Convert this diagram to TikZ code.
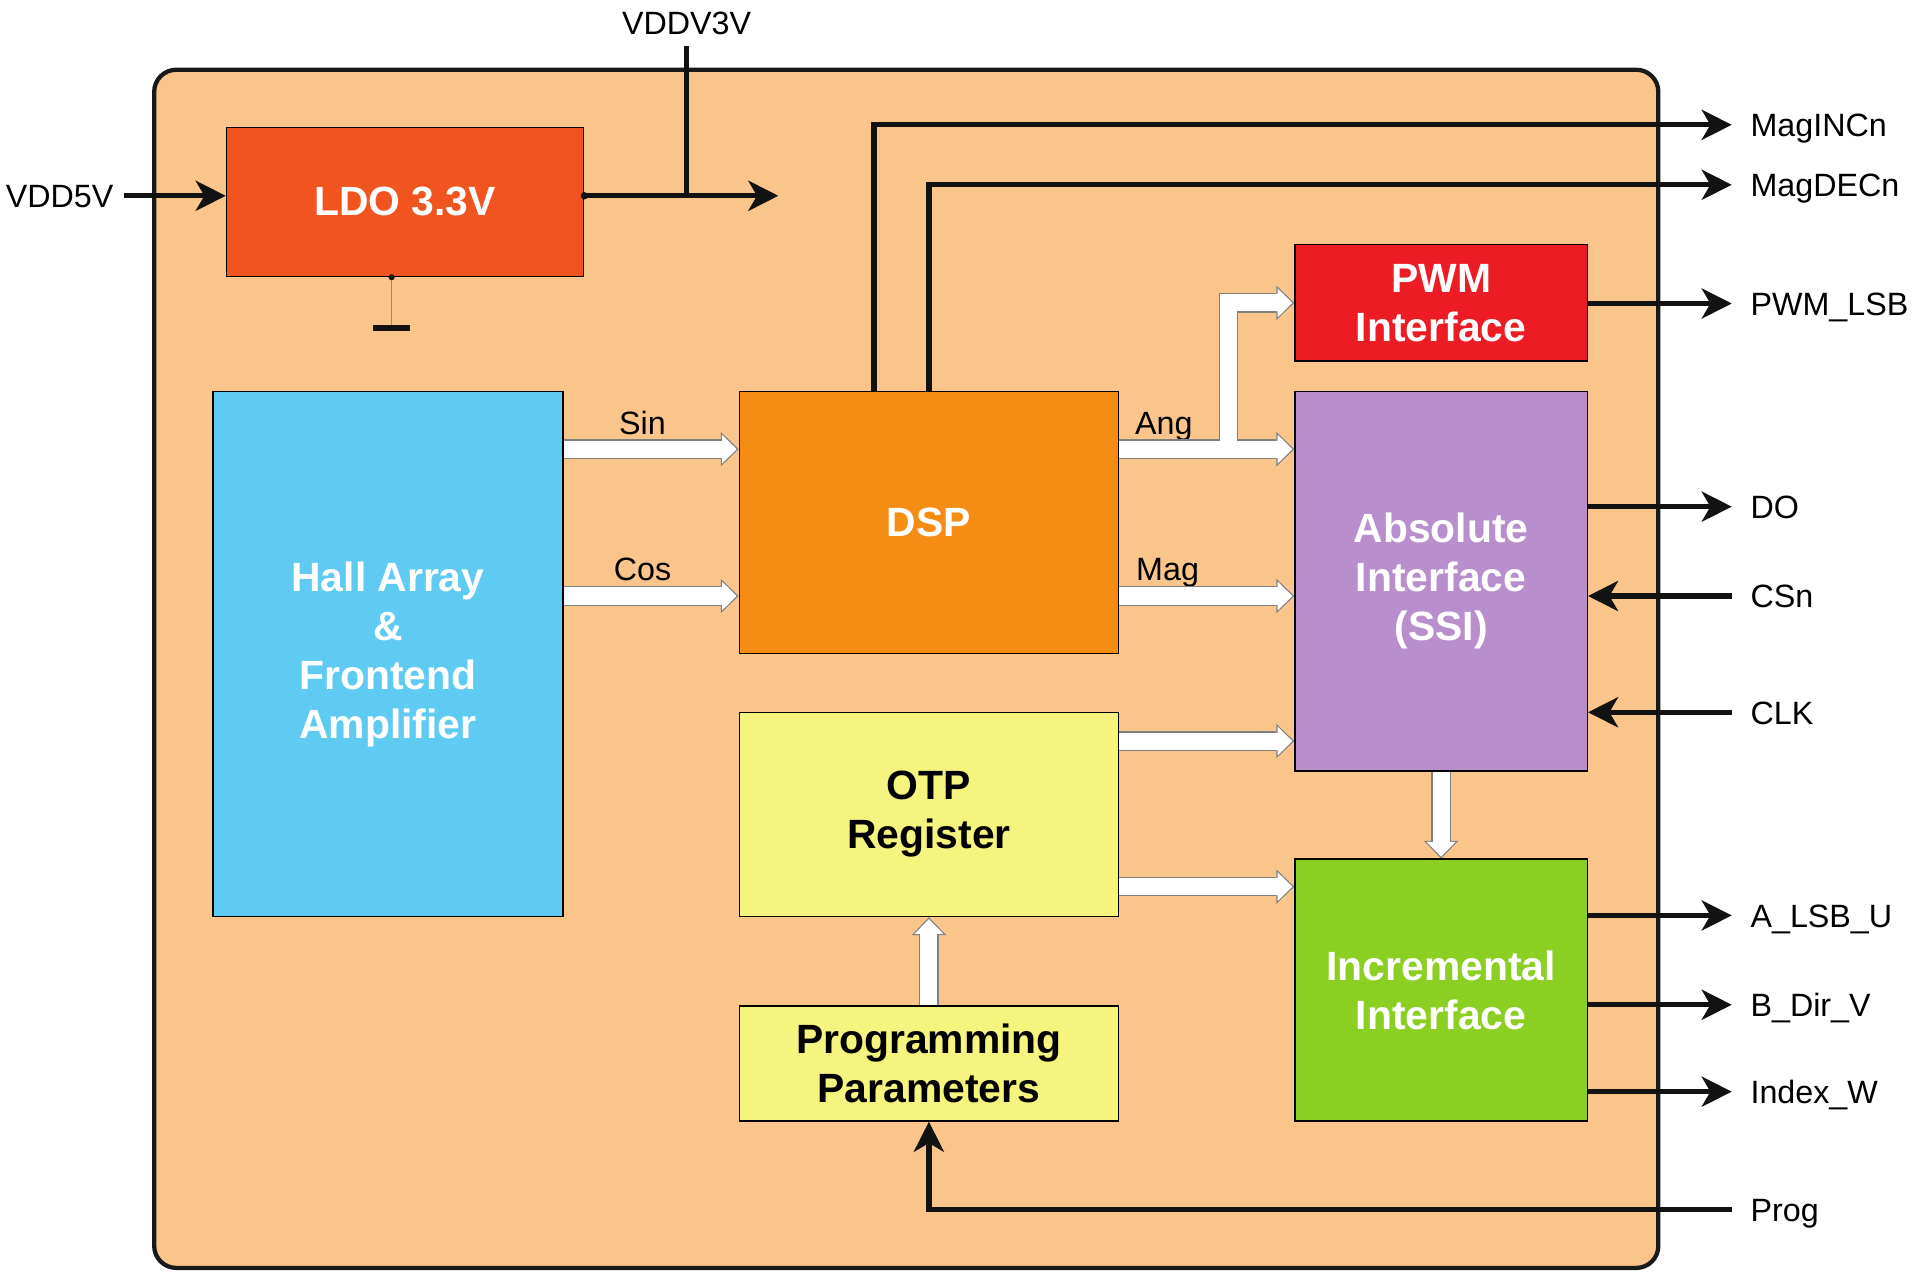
\documentclass[tikz,border=0pt]{standalone}
\usepackage{fontspec}
\setmainfont{Liberation Sans}
\usepackage{xcolor}
\usepackage{tikz}
\usetikzlibrary{arrows.meta}
\usetikzlibrary{positioning,calc}

\definecolor{chipcol}{HTML}{F9C58B}
\definecolor{ldocol}{HTML}{F1541E}
\definecolor{hallcol}{HTML}{5FCBF2}
\definecolor{dspcol}{HTML}{F58C13}
\definecolor{otpcol}{HTML}{F5F47F}
\definecolor{pwmcol}{HTML}{ED1C24}
\definecolor{abscol}{HTML}{B88FCC}
\definecolor{inccol}{HTML}{8BCF23}

\tikzset{
	blocknode/.style={rectangle, draw=black, line width=0.6pt, inner sep=0pt, align=center, text=white, font=\fontsize{19}{22.8}\selectfont\bfseries},
	chipnode/.style={rectangle, draw=black!90, fill=chipcol, line width=0.07cm, rounded corners=0.36cm}
}
\tikzset{
	pinlabel/.style={anchor=west, inner sep=0pt, text height=11pt, text depth=0pt, font=\fontsize{15}{18}\selectfont},
	wirelabel/.style={inner sep=0pt, text height=11pt, text depth=0pt, font=\fontsize{15}{18}\selectfont},
	sig/.style={line width=0.087cm, draw=black!93},
	sigout/.style={sig, -{Stealth[length=0.49cm, width=0.49cm, inset=0.14cm]}, shorten >=0.3cm},
	sigin/.style={sig, {Stealth[length=0.49cm, width=0.49cm, inset=0.14cm]}-, shorten >=0.3cm},
	flowout/.style={draw=black!50, line width=0.32cm, line join=miter, -{Triangle[length=0.29cm, width=0.56cm, line width=0pt]}},
	flowin/.style={draw=white, line width=0.28cm, line join=miter, -{Triangle[length=0.24cm, width=0.47cm, line width=0pt]}, shorten >=0.03cm}
}

\begin{document}
\begin{tikzpicture}
		\useasboundingbox (0,0) rectangle (31.36,21.04);
		\node[chipnode, minimum width=24.58cm, minimum height=19.58cm] at (14.81,10.11) (chip) {};
		
		\node[blocknode, fill=ldocol, minimum width=5.84cm, minimum height=2.44cm] at (6.62,17.74) (ldo) {LDO 3.3V};
		\node[blocknode, fill=hallcol, minimum width=5.72cm, minimum height=8.58cm] at (6.34,10.35) (hall) {Hall Array\\\&\\Frontend\\Amplifier};
		\node[blocknode, fill=dspcol, minimum width=6.20cm, minimum height=4.28cm] at (15.18,12.50) (dsp) {DSP};
		\node[blocknode, fill=otpcol, text=black, minimum width=6.20cm, minimum height=3.34cm] at (15.18,7.73) (otp) {OTP\\Register};
		\node[blocknode, fill=otpcol, text=black, minimum width=6.20cm, minimum height=1.88cm] at (15.18,3.66) (prog) {Programming\\Parameters};
		\node[blocknode, fill=pwmcol, minimum width=4.78cm, minimum height=1.90cm] at (23.55,16.09) (pwm) {PWM\\Interface};
		\node[blocknode, fill=abscol, minimum width=4.78cm, minimum height=6.20cm] at (23.55,11.54) (abs) {Absolute\\Interface\\(SSI)};
		\node[blocknode, fill=inccol, minimum width=4.78cm, minimum height=4.28cm] at (23.55,4.86) (inc) {Incremental\\Interface};
		
		\node[pinlabel, anchor=east] at (1.86,17.84) (vdd5l) {VDD5V};
		\node[pinlabel, anchor=south] at (11.22,20.47) (vddv3l) {VDDV3V};
		\node[pinlabel] at (28.60,19.00) (magincl) {MagINCn};
		\node[pinlabel] at (28.60,18.02) (magdecl) {MagDECn};
		\node[pinlabel] at (28.60,16.08) (pwml) {PWM\_LSB};
		\node[pinlabel] at (28.60,12.76) (dol) {DO};
		\node[pinlabel] at (28.60,11.30) (csnl) {CSn};
		\node[pinlabel] at (28.60,9.40) (clkl) {CLK};
		\node[pinlabel] at (28.60,6.08) (al) {A\_LSB\_U};
		\node[pinlabel] at (28.60,4.62) (bl) {B\_Dir\_V};
		\node[pinlabel] at (28.60,3.20) (indexl) {Index\_W};
		\node[pinlabel] at (28.60,1.28) (progl) {Prog};
		
		\node[wirelabel] at (10.50,14.14) (sinl) {Sin};
		\node[wirelabel] at (10.50,11.74) (cosl) {Cos};
		\node[wirelabel] at (19.02,14.14) (angl) {Ang};
		\node[wirelabel] at (19.08,11.74) (magl) {Mag};
		
		\coordinate (sin) at ([yshift=1.2cm]dsp.west);
		\coordinate (cos) at ([yshift=-1.2cm]dsp.west);
		\coordinate (ang) at ([yshift=1.2cm]dsp.east);
		\coordinate (mag) at ([yshift=-1.2cm]dsp.east);
		\coordinate (otpa) at ([yshift=0.5cm]abs.south west);
		\coordinate (otpi) at ([yshift=-0.46cm]inc.north west);
		\coordinate (v3out) at (12.72,17.84);
		\coordinate (gnd) at (6.40,15.68);
		
		%Lines
		
		\foreach \lay in {flowout,flowin}{
			\draw[\lay] (hall.east |- sin) -- (sin);
			\draw[\lay] (hall.east |- cos) -- (cos);
			\draw[\lay] ($(ang)!0.625!(abs.west |- ang)$) |- (pwm.west);
			\draw[\lay] (ang) -- (abs.west |- ang);
			\draw[\lay] (mag) -- (abs.west |- mag);
			\draw[\lay] (otp.east |- otpa) -- (otpa);
			\draw[\lay] (otp.east |- otpi) -- (otpi);
			\draw[\lay] (abs.south) -- (inc.north);
			\draw[\lay] (prog.north) -- (otp.south);
		}
		
		\draw[sigout, shorten >=0pt, shorten <=0.16cm] (vdd5l.east) -- (ldo.west |- vdd5l.east);
		\draw[sigout, shorten >=0pt] (ldo.east |- v3out) -- (v3out);
		\fill[black!93] (ldo.east |- v3out) circle (0.06);
		\draw[sig] ([yshift=-0.19cm]vddv3l.south) -- (vddv3l.south |- v3out);
		\draw[black!45, line width=0.8pt] ([xshift=-0.22cm]ldo.south) -- (gnd);
		\fill[black!93] ([xshift=-0.22cm]ldo.south) circle (0.05);
		\draw[black!93, line width=0.1cm] ([xshift=-0.3cm]gnd) -- ([xshift=0.3cm]gnd);
		
		\draw[sigout] ([xshift=-0.9cm]dsp.north) |- (magincl.west);
		\draw[sigout] (dsp.north) |- (magdecl.west);
		\draw[sigout] (pwm.east |- pwml.west) -- (pwml.west);
		\draw[sigout] (abs.east |- dol.west) -- (dol.west);
		\draw[sigin] (abs.east |- csnl.west) -- (csnl.west);
		\draw[sigin] (abs.east |- clkl.west) -- (clkl.west);
		\draw[sigout] (inc.east |- al.west) -- (al.west);
		\draw[sigout] (inc.east |- bl.west) -- (bl.west);
		\draw[sigout] (inc.east |- indexl.west) -- (indexl.west);
		\draw[sigin] (prog.south) |- (progl.west);
		
	\end{tikzpicture}
\end{document}
